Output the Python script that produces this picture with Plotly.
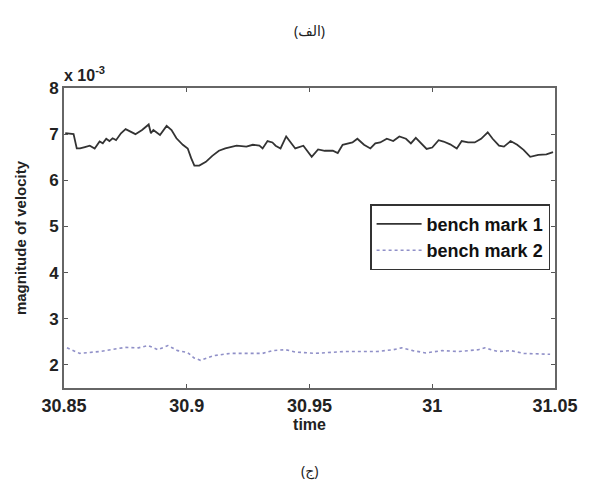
import plotly.graph_objects as go

t1 = [30.8505, 30.8539, 30.8552, 30.8565, 30.8585, 30.8605, 30.8625, 30.8645, 30.8658, 30.8672,
      30.8685, 30.8698, 30.8712, 30.8732, 30.8751, 30.8771, 30.8791, 30.8818, 30.8845, 30.8854,
      30.8864, 30.8891, 30.8918, 30.8938, 30.8958, 30.8984, 30.9004, 30.9018, 30.9031, 30.9051,
      30.9078, 30.9104, 30.9131, 30.9157, 30.9203, 30.9243, 30.9269, 30.9296, 30.9309, 30.9329,
      30.9349, 30.9362, 30.9382, 30.9405, 30.9422, 30.9442, 30.9475, 30.9509, 30.9535, 30.9562,
      30.9595, 30.9615, 30.9635, 30.9655, 30.9675, 30.9695, 30.9722, 30.9748, 30.9768, 30.9788,
      30.9815, 30.9841, 30.9866, 30.9893, 30.9913, 30.9933, 30.9953, 30.9977, 31.0000, 31.0026,
      31.0046, 31.0073, 31.0100, 31.0120, 31.0146, 31.0173, 31.0199, 31.0226, 31.0246, 31.0272,
      31.0292, 31.0319, 31.0346, 31.0372, 31.0399, 31.0432, 31.0465, 31.0492]
v1 = [7.02, 7.00, 6.69, 6.69, 6.72, 6.75, 6.69, 6.84, 6.80, 6.90,
      6.85, 6.91, 6.87, 7.02, 7.11, 7.05, 7.00, 7.09, 7.21, 7.02,
      7.09, 6.98, 7.18, 7.09, 6.91, 6.77, 6.69, 6.48, 6.32, 6.32,
      6.40, 6.53, 6.64, 6.69, 6.75, 6.73, 6.77, 6.75, 6.69, 6.85,
      6.82, 6.75, 6.69, 6.95, 6.84, 6.69, 6.75, 6.51, 6.67, 6.64,
      6.64, 6.59, 6.77, 6.80, 6.82, 6.90, 6.77, 6.69, 6.80, 6.82,
      6.90, 6.85, 6.95, 6.90, 6.80, 6.92, 6.80, 6.68, 6.71, 6.87,
      6.84, 6.78, 6.69, 6.85, 6.82, 6.82, 6.90, 7.04, 6.90, 6.75,
      6.73, 6.85, 6.77, 6.66, 6.51, 6.55, 6.56, 6.61]

t2 = [30.8512, 30.8564, 30.8644, 30.8697, 30.8750, 30.8803, 30.8843, 30.8883, 30.8923, 30.8963,
      30.9003, 30.9030, 30.9056, 30.9110, 30.9176, 30.9309, 30.9349, 30.9402, 30.9442, 30.9522,
      30.9642, 30.9775, 30.9842, 30.9875, 30.9921, 30.9974, 31.0041, 31.0108, 31.0188, 31.0214,
      31.0267, 31.0320, 31.0373, 31.0480]
v2 = [2.37, 2.25, 2.29, 2.33, 2.38, 2.37, 2.42, 2.33, 2.42, 2.31,
      2.27, 2.15, 2.10, 2.20, 2.25, 2.25, 2.31, 2.33, 2.28, 2.25,
      2.29, 2.29, 2.33, 2.37, 2.31, 2.26, 2.31, 2.29, 2.33, 2.37,
      2.29, 2.31, 2.25, 2.23]

x_ticks = [30.85, 30.9, 30.95, 31, 31.05]
x_tick_labels = ["30.85", "30.9", "30.95", "31", "31.05"]
y_ticks = [2, 3, 4, 5, 6, 7, 8]

font_main = "Liberation Sans, Arial, sans-serif"

fig = go.Figure()
fig.add_trace(go.Scatter(x=t1, y=v1, mode="lines", name="bench mark 1",
                         line=dict(color="#333333", width=1.8)))
fig.add_trace(go.Scatter(x=t2, y=v2, mode="lines", name="bench mark 2",
                         line=dict(color="#9090c8", width=1.6, dash="dot")))

axis_common = dict(showline=True, linecolor="#666666", linewidth=2, mirror="ticks",
                   ticks="inside", ticklen=4, tickcolor="#555555", showgrid=False,
                   zeroline=False)

fig.update_layout(
    width=582, height=475,
    margin=dict(l=56, r=25, t=80, b=95),
    paper_bgcolor="white", plot_bgcolor="white",
    showlegend=True,
    legend=dict(x=0.99, y=0.613, xanchor="right", yanchor="top",
                bgcolor="white", bordercolor="#333333", borderwidth=1.5,
                font=dict(family=font_main, size=18, color="#111111", weight="bold"),
                tracegroupgap=0, itemwidth=45),
    xaxis=dict(range=[30.85, 31.05], tickvals=x_ticks, ticktext=x_tick_labels,
               tickfont=dict(family=font_main, size=18, color="#222222", weight="bold"),
               title=dict(text="time", standoff=4,
                          font=dict(family=font_main, size=16, color="#222222", weight="bold")),
               **axis_common),
    yaxis=dict(range=[1.5, 8], tickvals=y_ticks,
               tickfont=dict(family=font_main, size=17, color="#222222", weight="bold"),
               title=dict(text="magnitude of velocity", standoff=19,
                          font=dict(family=font_main, size=15, color="#222222", weight="bold")),
               **axis_common),
    annotations=[
        dict(text="x 10<sup>-3</sup>", xref="paper", yref="paper", x=0.0, y=1.0,
             xanchor="left", yanchor="bottom", showarrow=False, xshift=-2, yshift=2,
             font=dict(family=font_main, size=16, color="#222222", weight="bold")),
        dict(text="(الف)", xref="paper", yref="paper", x=0.5, y=1.0, yshift=58,
             xanchor="center", yanchor="middle", showarrow=False,
             font=dict(family="Noto Sans, DejaVu Sans", size=14, color="#222222")),
        dict(text="(ج)", xref="paper", yref="paper", x=0.5, y=0.0, yshift=-82,
             xanchor="center", yanchor="middle", showarrow=False,
             font=dict(family="Noto Sans, DejaVu Sans", size=14, color="#222222")),
    ],
)

fig.write_html("out.html")
